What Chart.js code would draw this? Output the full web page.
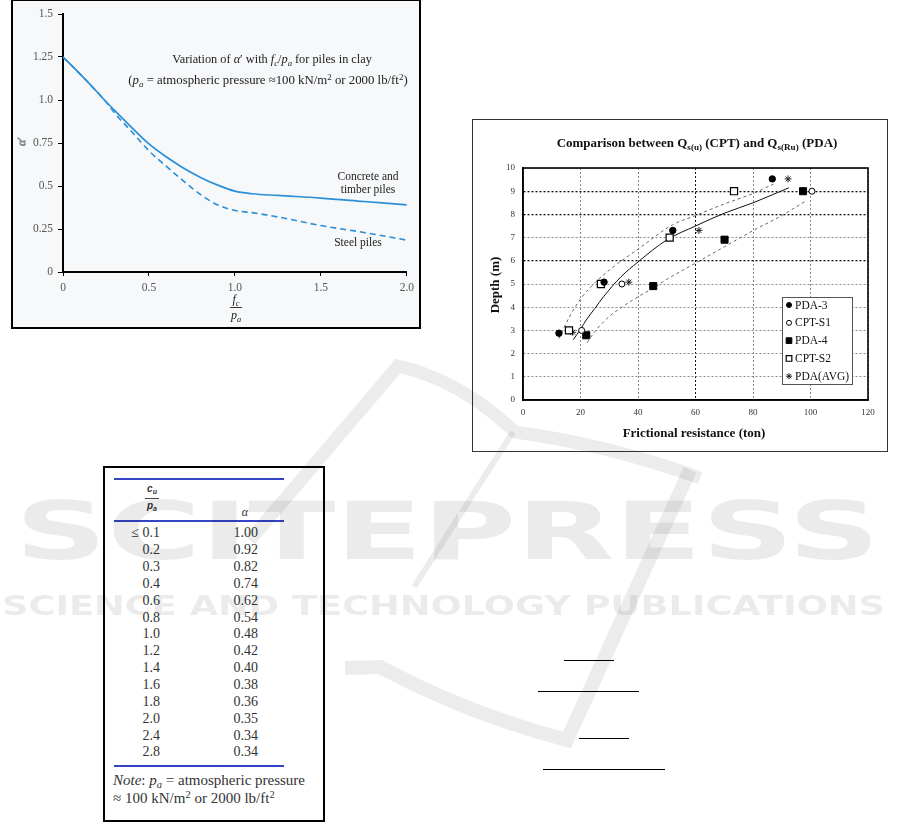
<!DOCTYPE html>
<html>
<head>
<meta charset="utf-8">
<script src="https://cdn.jsdelivr.net/npm/chart.js@4.4.0/dist/chart.umd.min.js"></script>
<style>
html, body { margin: 0; padding: 0; background: #fff; }
body { width: 901px; height: 823px; position: relative; overflow: hidden; font-family: "Liberation Serif", serif; color: #222; }
.abs { position: absolute; }
sub { font-size: 0.7em; vertical-align: -0.3em; line-height: 0; }
sup { font-size: 0.7em; vertical-align: 0.45em; line-height: 0; }
#boxA { left: 11px; top: -1px; width: 406px; height: 326px; border: 2px solid #000; background: #f6f8fa; }
#wrapA { left: 13px; top: 1px; width: 406px; height: 326px; }
#boxB { left: 472px; top: 119px; width: 414px; height: 331px; border: 1px solid #333; background: #fff; }
#wrapB { left: 473px; top: 120px; width: 414px; height: 331px; }
#tbl { left: 103px; top: 466px; width: 218px; height: 352px; border: 2px solid #000; background: #fff; }
.rule { height: 2px; background: #3344c4; left: 114px; width: 170px; }
.cell { height: 16px; line-height: 16px; font-size: 14px; color: #333; text-align: right; white-space: nowrap; }
.ann { white-space: nowrap; text-align: center; color: #222; }
.hr { height: 1px; background: #000; }
#wm { left: 0; top: 0; width: 901px; height: 823px; pointer-events: none; }
</style>
</head>
<body>

<div id="boxA" class="abs"></div>
<div id="wrapA" class="abs"><canvas id="chartA"></canvas></div>

<!-- left chart annotations -->
<div class="abs ann" style="left:112px;top:52px;width:320px;font-size:12.3px;">Variation of <i>α</i>′ with <i>f<sub>c</sub></i>/<i>p<sub>a</sub></i> for piles in clay</div>
<div class="abs ann" style="left:98px;top:73px;width:340px;font-size:12.8px;">(<i>p<sub>a</sub></i> = atmospheric pressure ≈100 kN/m<sup>2</sup> or 2000 lb/ft<sup>2</sup>)</div>
<div class="abs ann" style="left:318px;top:170px;width:100px;font-size:11.5px;line-height:13px;">Concrete and<br>timber piles</div>
<div class="abs ann" style="left:318px;top:236px;width:80px;font-size:11.5px;">Steel piles</div>
<div class="abs ann" style="left:14px;top:134px;width:16px;font-size:12px;transform:rotate(-90deg);"><i>α</i>′</div>
<div class="abs ann" style="left:226px;top:293px;width:20px;font-size:12px;line-height:13px;"><i>f<sub>c</sub></i></div>
<div class="abs" style="left:230px;top:307px;width:12px;height:1px;background:#333;"></div>
<div class="abs ann" style="left:226px;top:309px;width:20px;font-size:12px;line-height:13px;"><i>p<sub>a</sub></i></div>

<div id="boxB" class="abs"></div>
<div id="wrapB" class="abs"><canvas id="chartB"></canvas></div>
<div class="abs ann" style="left:520px;top:135px;width:354px;font-size:13px;font-weight:bold;color:#111;">Comparison between Q<sub>s(u)</sub> (CPT) and Q<sub>s(Ru)</sub> (PDA)</div>
<div class="abs ann" style="left:594px;top:425px;width:200px;font-size:13px;font-weight:bold;color:#111;">Frictional resistance (ton)</div>
<div class="abs ann" style="left:455px;top:277px;width:80px;font-size:13px;font-weight:bold;color:#111;transform:rotate(-90deg);">Depth (m)</div>

<div id="tbl" class="abs"></div>
<div id="tblBody"></div>

<div class="abs hr" style="left:564px;top:660px;width:50px;"></div>
<div class="abs hr" style="left:538px;top:691px;width:101px;"></div>
<div class="abs hr" style="left:579px;top:738px;width:50px;"></div>
<div class="abs hr" style="left:543px;top:769px;width:122px;"></div>

<svg id="wm" class="abs" width="901" height="823">
  <g fill="none" stroke="rgba(0,0,0,0.075)" stroke-linecap="butt">
    <path d="M 250 540 L 398 366 Q 460 380 515 432 Q 610 445 700 478" stroke-width="13"/>
    <path d="M 690 470 L 567 740 Q 470 715 380 667 L 345 668" stroke-width="14"/>
    <path d="M 513 432 L 414 587" stroke-width="6"/>
  </g>
  <g fill="rgba(0,0,0,0.08)" font-family="DejaVu Sans" font-weight="bold">
    <text x="15" y="559" font-size="80" textLength="865" lengthAdjust="spacingAndGlyphs">SCITEPRESS</text>
    <text x="2" y="615" font-size="27" textLength="883" lengthAdjust="spacingAndGlyphs">SCIENCE AND TECHNOLOGY PUBLICATIONS</text>
  </g>
</svg>

<script>
// ---- left chart: alpha' vs fc/pa ----
var fcPa = [0, 0.1, 0.2, 0.25, 0.3, 0.4, 0.5, 0.6, 0.7, 0.8, 0.9, 1.0, 1.1, 1.25, 1.5, 1.75, 2.0];
var alphaConcrete = [1.25, 1.15, 1.045, 0.99, 0.94, 0.84, 0.745, 0.67, 0.605, 0.55, 0.505, 0.47, 0.455, 0.445, 0.43, 0.41, 0.39];
var alphaSteel = [1.25, 1.15, 1.045, 0.99, 0.925, 0.815, 0.705, 0.615, 0.53, 0.45, 0.39, 0.358, 0.345, 0.32, 0.27, 0.23, 0.185];
var xTickLabelsA = ['0', '0.5', '1.0', '1.5', '2.0'];
var yTickLabelsA = ['0', '0.25', '0.5', '0.75', '1.0', '1.25', '1.5'];

// ---- table: alpha vs cu/pa ----
var cuPa = ['≤ 0.1', '0.2', '0.3', '0.4', '0.6', '0.8', '1.0', '1.2', '1.4', '1.6', '1.8', '2.0', '2.4', '2.8'];
var alphaTable = ['1.00', '0.92', '0.82', '0.74', '0.62', '0.54', '0.48', '0.42', '0.40', '0.38', '0.36', '0.35', '0.34', '0.34'];

// ---- right chart: depth vs frictional resistance ----
var pda3X = [12.5, 28.2, 52.1, 86.7];
var pda3Y = [2.88, 5.08, 7.31, 9.53];
var cptS1X = [20.4, 34.4, 100.5];
var cptS1Y = [3.0, 5.0, 9.0];
var pda4X = [22.0, 45.3, 70.1, 97.4];
var pda4Y = [2.79, 4.91, 6.91, 9.0];
var cptS2X = [16.0, 27.1, 51.0, 73.4];
var cptS2Y = [3.0, 5.0, 7.0, 9.0];
var pdaAvgX = [17.3, 36.8, 61.2, 92.2];
var pdaAvgY = [2.92, 5.08, 7.31, 9.53];
var trendMidX = [17.5, 20, 22, 25, 28, 34, 40, 50, 60, 70, 80, 92.5];
var trendMidY = [2.6, 3.05, 3.45, 3.95, 4.45, 5.3, 5.95, 6.9, 7.5, 8.05, 8.5, 9.15];
var trendUpX = [12.5, 16, 20, 25, 30, 40, 52, 60, 70, 80, 87];
var trendUpY = [2.65, 3.55, 4.35, 5.05, 5.6, 6.5, 7.55, 7.95, 8.45, 8.9, 9.3];
var trendLowX = [22.3, 25, 30, 35, 40, 45, 50, 60, 70, 80, 90, 98];
var trendLowY = [2.47, 2.95, 3.6, 4.05, 4.45, 4.8, 5.2, 5.9, 6.6, 7.3, 7.95, 8.55];
var darkGridY = [6, 8, 9];
var darkGridX = [60];

Chart.defaults.font.family = '"Liberation Serif", serif';
Chart.defaults.animation = false;

function pts(xs, ys) {
  return xs.map(function(x, i) { return { x: x, y: ys[i] }; });
}

// table body
(function() {
  var host = document.getElementById('tblBody');
  var html = '';
  html += '<div class="abs rule" style="top:478px;"></div>';
  html += '<div class="abs rule" style="top:520px;"></div>';
  html += '<div class="abs rule" style="top:765px;"></div>';
  html += '<div class="abs" style="left:140px;top:483px;width:24px;text-align:center;font:italic bold 10px \'Liberation Sans\',sans-serif;color:#333;">c<sub>u</sub></div>';
  html += '<div class="abs" style="left:145px;top:498px;width:14px;height:1px;background:#444;"></div>';
  html += '<div class="abs" style="left:140px;top:500px;width:24px;text-align:center;font:italic bold 10px \'Liberation Sans\',sans-serif;color:#333;">p<sub>a</sub></div>';
  html += '<div class="abs" style="left:237px;top:505px;width:16px;text-align:center;font:italic 12px \'Liberation Serif\',serif;color:#333;">α</div>';
  for (var i = 0; i < cuPa.length; i++) {
    var top = 533.3 + i * 16.85 - 8;
    html += '<div class="abs cell" style="left:110px;width:50px;top:' + top.toFixed(1) + 'px;">' + cuPa[i] + '</div>';
    html += '<div class="abs cell" style="left:208px;width:50px;top:' + top.toFixed(1) + 'px;">' + alphaTable[i] + '</div>';
  }
  html += '<div class="abs" style="left:113px;top:771px;font-size:15px;line-height:18px;white-space:nowrap;color:#333;"><i>Note</i>: <i>p<sub>a</sub></i> = atmospheric pressure</div>';
  html += '<div class="abs" style="left:113px;top:789px;font-size:15px;line-height:18px;white-space:nowrap;color:#333;">≈ 100 kN/m<sup>2</sup> or 2000 lb/ft<sup>2</sup></div>';
  host.innerHTML = html;
})();

// left chart
new Chart(document.getElementById('chartA'), {
  type: 'scatter',
  data: {
    datasets: [
      {
        label: 'Concrete and timber piles',
        data: pts(fcPa, alphaConcrete),
        showLine: true,
        borderColor: '#2a8fd6',
        borderWidth: 1.7,
        pointRadius: 0,
        cubicInterpolationMode: 'monotone'
      },
      {
        label: 'Steel piles',
        data: pts(fcPa, alphaSteel),
        showLine: true,
        borderColor: '#2a8fd6',
        borderWidth: 1.6,
        borderDash: [6, 4],
        pointRadius: 0,
        cubicInterpolationMode: 'monotone'
      }
    ]
  },
  options: {
    responsive: true,
    maintainAspectRatio: false,
    layout: { padding: { left: 0, right: 11, top: 13, bottom: 0 } },
    plugins: { legend: { display: false }, tooltip: { enabled: false } },
    scales: {
      x: {
        type: 'linear', min: 0, max: 2,
        afterFit: function(s) { s.height = 55; },
        grid: { drawOnChartArea: false, drawTicks: true, tickLength: 4, color: '#000' },
        border: { display: true, color: '#000', width: 2 },
        ticks: {
          stepSize: 0.5, padding: 5, color: '#555', font: { size: 11.5 },
          callback: function(v) { return xTickLabelsA[Math.round(v / 0.5)]; }
        }
      },
      y: {
        type: 'linear', min: 0, max: 1.5,
        afterFit: function(s) { s.width = 50; },
        grid: { drawOnChartArea: false, drawTicks: true, tickLength: 5, color: '#000' },
        border: { display: true, color: '#000', width: 2 },
        ticks: {
          stepSize: 0.25, padding: 5, color: '#555', font: { size: 11.5 },
          callback: function(v) { return yTickLabelsA[Math.round(v / 0.25)]; }
        }
      }
    }
  }
});

// right chart: frame + legend drawn inside the plot
var frameLegend = {
  id: 'frameLegend',
  afterDraw: function(chart) {
    var ctx = chart.ctx, a = chart.chartArea;
    ctx.save();
    ctx.strokeStyle = '#000';
    ctx.lineWidth = 1.6;
    ctx.strokeRect(a.left, a.top, a.right - a.left, a.bottom - a.top);

    var bx = 309, by = 177, bw = 70, bh = 87;
    ctx.fillStyle = '#fff';
    ctx.fillRect(bx, by, bw, bh);
    ctx.strokeStyle = '#555';
    ctx.lineWidth = 1;
    ctx.strokeRect(bx + 0.5, by + 0.5, bw, bh);

    var items = chart.data.datasets.filter(function(d) { return !d.showLine; });
    ctx.font = '11.5px "Liberation Serif", serif';
    ctx.textBaseline = 'middle';
    items.forEach(function(d, i) {
      var y = by + 8 + i * 17.8;
      ctx.fillStyle = d.backgroundColor;
      ctx.strokeStyle = d.borderColor;
      ctx.lineWidth = d.borderWidth;
      Chart.helpers.drawPoint(ctx, {
        pointStyle: d.pointStyle, rotation: 0,
        radius: d.pointStyle === 'rect' ? 4 : (d.pointStyle === 'star' ? 3 : 2.5),
        borderWidth: d.borderWidth
      }, bx + 7, y);
      ctx.fillStyle = '#111';
      ctx.fillText(d.label, bx + 13, y + 0.5);
    });
    ctx.restore();
  }
};

new Chart(document.getElementById('chartB'), {
  type: 'scatter',
  data: {
    datasets: [
      { label: 'PDA-3', data: pts(pda3X, pda3Y), pointStyle: 'circle', pointRadius: 3.2,
        backgroundColor: '#000', borderColor: '#000', borderWidth: 1 },
      { label: 'CPT-S1', data: pts(cptS1X, cptS1Y), pointStyle: 'circle', pointRadius: 3,
        backgroundColor: '#fff', borderColor: '#000', borderWidth: 1 },
      { label: 'PDA-4', data: pts(pda4X, pda4Y), pointStyle: 'rect', pointRadius: 5,
        backgroundColor: '#000', borderColor: '#000', borderWidth: 1 },
      { label: 'CPT-S2', data: pts(cptS2X, cptS2Y), pointStyle: 'rect', pointRadius: 5,
        backgroundColor: '#fff', borderColor: '#000', borderWidth: 1.2 },
      { label: 'PDA(AVG)', data: pts(pdaAvgX, pdaAvgY), pointStyle: 'star', pointRadius: 3.5,
        backgroundColor: '#fff', borderColor: '#222', borderWidth: 1 },
      { label: 'upper', data: pts(trendUpX, trendUpY), showLine: true, pointRadius: 0,
        borderColor: '#666', borderWidth: 1, borderDash: [3, 3], cubicInterpolationMode: 'monotone' },
      { label: 'mid', data: pts(trendMidX, trendMidY), showLine: true, pointRadius: 0,
        borderColor: '#111', borderWidth: 1, cubicInterpolationMode: 'monotone' },
      { label: 'lower', data: pts(trendLowX, trendLowY), showLine: true, pointRadius: 0,
        borderColor: '#666', borderWidth: 1, borderDash: [3, 3], cubicInterpolationMode: 'monotone' }
    ]
  },
  options: {
    responsive: true,
    maintainAspectRatio: false,
    layout: { padding: { left: 0, right: 19, top: 48, bottom: 0 } },
    plugins: { legend: { display: false }, tooltip: { enabled: false } },
    scales: {
      x: {
        type: 'linear', min: 0, max: 120,
        afterFit: function(s) { s.height = 51; },
        grid: {
          drawTicks: false,
          color: function(c) { return c.tick && darkGridX.indexOf(c.tick.value) >= 0 ? '#111' : '#8a8a8a'; },
          lineWidth: 1
        },
        border: { display: true, color: '#000', width: 1.5, dash: [2, 2] },
        ticks: { stepSize: 20, padding: 7, color: '#333', font: { size: 9 } }
      },
      y: {
        type: 'linear', min: 0, max: 10,
        afterFit: function(s) { s.width = 50; },
        grid: {
          drawTicks: false,
          color: function(c) { return c.tick && darkGridY.indexOf(c.tick.value) >= 0 ? '#111' : '#8a8a8a'; },
          lineWidth: function(c) { return c.tick && darkGridY.indexOf(c.tick.value) >= 0 ? 1.3 : 1; }
        },
        border: { display: true, color: '#000', width: 1.5, dash: [2, 2] },
        ticks: { stepSize: 1, padding: 8, color: '#333', font: { size: 9 } }
      }
    }
  },
  plugins: [frameLegend]
});
</script>
</body>
</html>
